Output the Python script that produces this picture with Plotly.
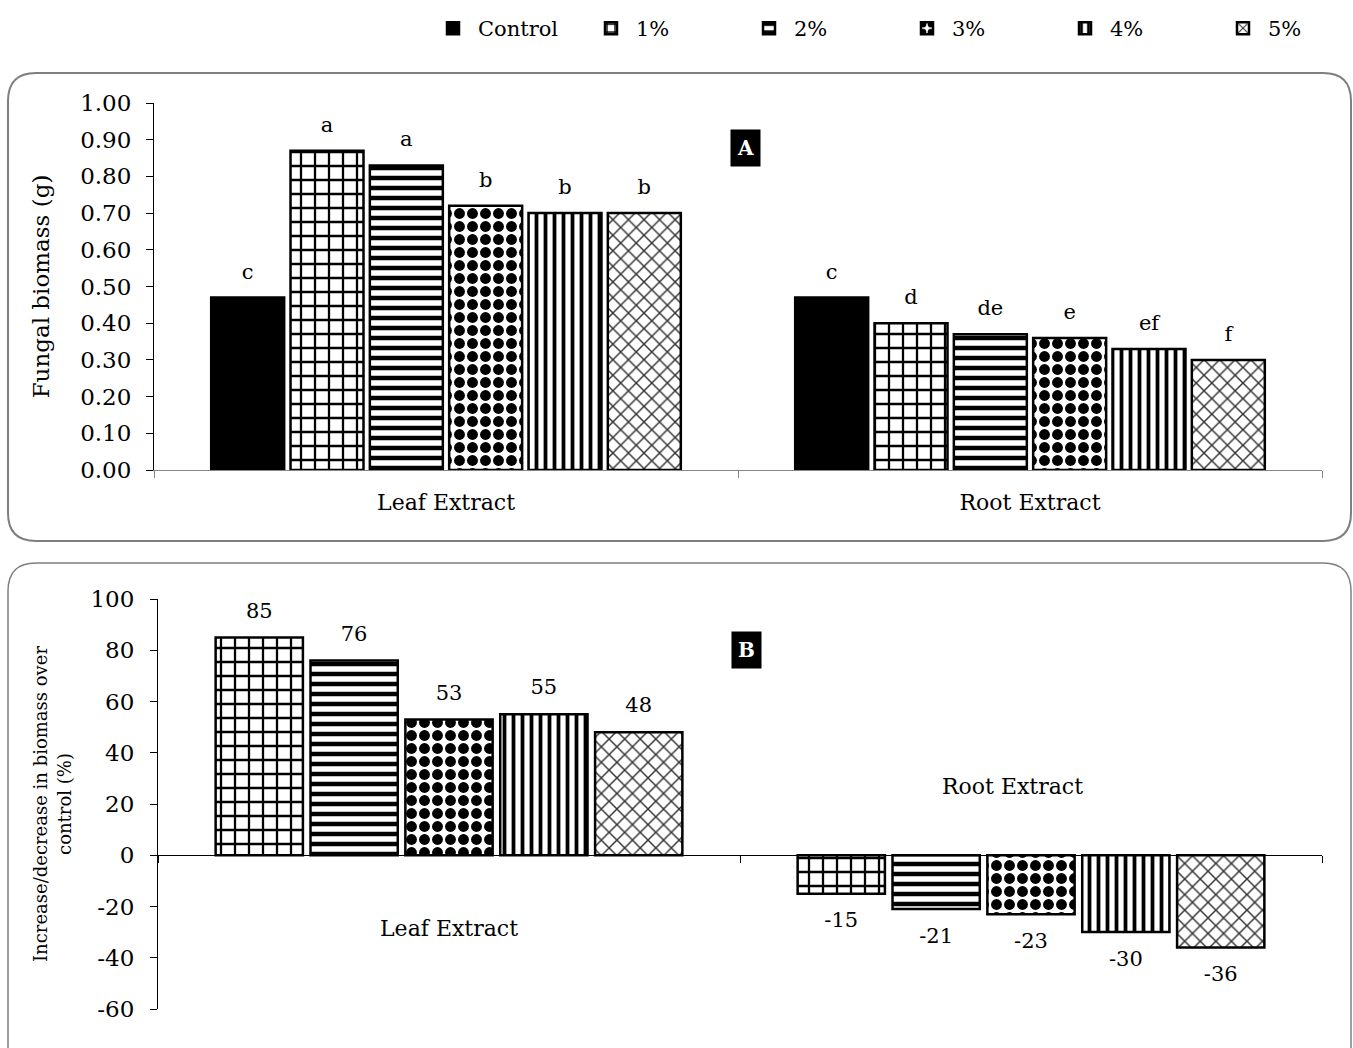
import plotly.graph_objects as go

W, H = 1353, 1048

# ---------------- data ----------------
categories = ["Leaf Extract", "Root Extract"]
series_names = ["Control", "1%", "2%", "3%", "4%", "5%"]

# Panel A: fungal biomass (g)
biomass_control = [0.47, 0.47]
biomass_1 = [0.87, 0.40]
biomass_2 = [0.83, 0.37]
biomass_3 = [0.72, 0.36]
biomass_4 = [0.70, 0.33]
biomass_5 = [0.70, 0.30]

letters_control = ["c", "c"]
letters_1 = ["a", "d"]
letters_2 = ["a", "de"]
letters_3 = ["b", "e"]
letters_4 = ["b", "ef"]
letters_5 = ["b", "f"]

# Panel B: % change over control
change_1 = [85, -15]
change_2 = [76, -21]
change_3 = [53, -23]
change_4 = [55, -30]
change_5 = [48, -36]

a_tick_vals = [0.0, 0.1, 0.2, 0.3, 0.4, 0.5, 0.6, 0.7, 0.8, 0.9, 1.0]
b_tick_vals = [-60, -40, -20, 0, 20, 40, 60, 80, 100]
b_tick_text = ["-60", "-40", "-20", "0", "20", "40", "60", "80", "100"]

# ---------------- styles ----------------
FONT = "DejaVu Serif"
patterns = {
    "Control": dict(shape="", fgcolor="black", bgcolor="black"),
    "1%": dict(shape="+", fgcolor="black", bgcolor="white", size=14, solidity=0.3, fgopacity=1),
    "2%": dict(shape="-", fgcolor="black", bgcolor="white", size=10, solidity=0.45, fgopacity=1),
    "3%": dict(shape=".", fgcolor="black", bgcolor="white", size=13, solidity=0.55, fgopacity=1),
    "4%": dict(shape="|", fgcolor="black", bgcolor="white", size=9, solidity=0.42, fgopacity=1),
    "5%": dict(shape="x", fgcolor="#333333", bgcolor="white", size=11, solidity=0.25, fgopacity=1),
}

biomass_series = [biomass_control, biomass_1, biomass_2, biomass_3, biomass_4, biomass_5]
letter_series = [letters_control, letters_1, letters_2, letters_3, letters_4, letters_5]
change_series = [change_1, change_2, change_3, change_4, change_5]

def px_x(p):
    return p / W

def px_y(p):
    return 1 - p / H

# axis domains (pixel-based layout)
A_dom_x = [px_x(154), px_x(1322)]
A_dom_y = [px_y(470), px_y(103)]
B_dom_x = [px_x(158), px_x(1322)]
B_dom_y = [px_y(1009), px_y(599)]
A_range = [0, 1.0]
B_range = [-60, 100]

fig = go.Figure()

# Panel A bars
for name, vals in zip(series_names, biomass_series):
    fig.add_trace(go.Bar(
        x=categories, y=vals, name=name,
        xaxis="x", yaxis="y",
        marker=dict(color="black" if name == "Control" else "white",
                    line=dict(color="black", width=2.5),
                    pattern=patterns[name]),
        showlegend=True,
    ))

# Panel A letters
a_off = 0.066
for name, vals, labs in zip(series_names, biomass_series, letter_series):
    fig.add_trace(go.Scatter(
        x=categories, y=[v + a_off for v in vals], text=labs, mode="text",
        xaxis="x", yaxis="y", showlegend=False, hoverinfo="skip",
        textfont=dict(family=FONT, size=21, color="black"),
        textposition="middle center", cliponaxis=False,
    ))

# Panel B bars
for name, vals in zip(series_names[1:], change_series):
    fig.add_trace(go.Bar(
        x=categories, y=vals, name=name,
        xaxis="x2", yaxis="y2",
        marker=dict(color="white", line=dict(color="black", width=2.5),
                    pattern=patterns[name]),
        showlegend=False,
    ))

# Panel B value labels
b_off_pos, b_off_neg = 9.8, 11.0
for name, vals in zip(series_names[1:], change_series):
    fig.add_trace(go.Scatter(
        x=categories, y=[v + (b_off_pos if v >= 0 else -b_off_neg) for v in vals],
        text=[str(v) for v in vals], mode="text",
        xaxis="x2", yaxis="y2", showlegend=False, hoverinfo="skip",
        textfont=dict(family=FONT, size=21, color="black"),
        textposition="middle center", cliponaxis=False,
    ))

# rounded panel frames
def rounded_path(x0, y0, x1, y1, r):
    X = px_x
    Y = px_y
    pts = [
        f"M{X(x0 + r)},{Y(y0)}",
        f"L{X(x1 - r)},{Y(y0)}",
        f"Q{X(x1)},{Y(y0)} {X(x1)},{Y(y0 + r)}",
        f"L{X(x1)},{Y(y1 - r)}",
        f"Q{X(x1)},{Y(y1)} {X(x1 - r)},{Y(y1)}",
        f"L{X(x0 + r)},{Y(y1)}",
        f"Q{X(x0)},{Y(y1)} {X(x0)},{Y(y1 - r)}",
        f"L{X(x0)},{Y(y0 + r)}",
        f"Q{X(x0)},{Y(y0)} {X(x0 + r)},{Y(y0)}",
        "Z",
    ]
    return " ".join(pts)

shapes = [
    dict(type="path", xref="paper", yref="paper", layer="below",
         path=rounded_path(8, 73, 1351, 541, 28),
         line=dict(color="#7f7f7f", width=2)),
    dict(type="path", xref="paper", yref="paper", layer="below",
         path=rounded_path(8, 563, 1351, 1075, 28),
         line=dict(color="#7f7f7f", width=1.5)),
]

zero_pos = B_dom_y[0] + (0 - B_range[0]) / (B_range[1] - B_range[0]) * (B_dom_y[1] - B_dom_y[0])

annotations = [
    dict(text="<b>A</b>", xref="paper", yref="paper", x=px_x(745), y=px_y(129),
         showarrow=False, bgcolor="black", borderpad=6,
         font=dict(family=FONT, size=20, color="white")),
    dict(text="<b>B</b>", xref="paper", yref="paper", x=px_x(746), y=px_y(650),
         showarrow=False, bgcolor="black", borderpad=6,
         font=dict(family=FONT, size=20, color="white")),
    dict(text=categories[0], xref="x2", yref="y2", x=categories[0], y=-28.5,
         showarrow=False, font=dict(family=FONT, size=22, color="black")),
    dict(text=categories[1], xref="x2", yref="y2", x=categories[1], y=27,
         xshift=-19, showarrow=False, font=dict(family=FONT, size=22, color="black")),
]

fig.update_layout(
    width=W, height=H,
    margin=dict(l=0, r=0, t=0, b=0, autoexpand=False),
    paper_bgcolor="white", plot_bgcolor="white",
    font=dict(family=FONT, color="black", size=21),
    barmode="group", bargap=0.185, bargroupgap=0.08,
    scattermode="group", scattergap=0.185,
    shapes=shapes, annotations=annotations,
    legend=dict(orientation="h", x=px_x(428), xanchor="left", y=px_y(8), yanchor="top",
                entrywidth=103, entrywidthmode="pixels", itemwidth=40,
                font=dict(family=FONT, size=21, color="black"),
                bgcolor="rgba(0,0,0,0)", traceorder="normal"),
    xaxis=dict(domain=A_dom_x, anchor="y", type="category", showline=True,
               linecolor="#868686", linewidth=1.2, ticks="outside", tickson="boundaries",
               ticklen=7, tickcolor="#868686", showgrid=False,
               tickfont=dict(family=FONT, size=22), ticklabelstandoff=12),
    yaxis=dict(domain=A_dom_y, anchor="x", range=A_range, tickvals=a_tick_vals,
               tickformat=".2f", showline=True, linecolor="black", linewidth=1,
               ticks="outside", ticklen=7, tickcolor="black", showgrid=False,
               zeroline=False, tickfont=dict(family=FONT, size=23), ticklabelstandoff=10,
               title=dict(text="Fungal biomass (g)", font=dict(family=FONT, size=23),
                          standoff=24)),
    xaxis2=dict(domain=B_dom_x, anchor="free", position=zero_pos, type="category",
                showline=True, linecolor="black", linewidth=1, ticks="outside",
                tickson="boundaries", ticklen=7, tickcolor="black",
                showgrid=False, showticklabels=False),
    yaxis2=dict(domain=B_dom_y, anchor="x2", range=B_range, tickvals=b_tick_vals,
                ticktext=b_tick_text,
                showline=True, linecolor="black", linewidth=1, ticks="outside",
                ticklen=7, tickcolor="black", showgrid=False, zeroline=False,
                tickfont=dict(family=FONT, size=23), ticklabelstandoff=11,
                title=dict(text="Increase/decrease in biomass over<br>control (%)",
                           font=dict(family=FONT, size=18), standoff=14)),
)

fig.write_html("out.html", config={"displayModeBar": False},
               post_script="document.body.style.margin='0';document.body.style.overflow='hidden';")
